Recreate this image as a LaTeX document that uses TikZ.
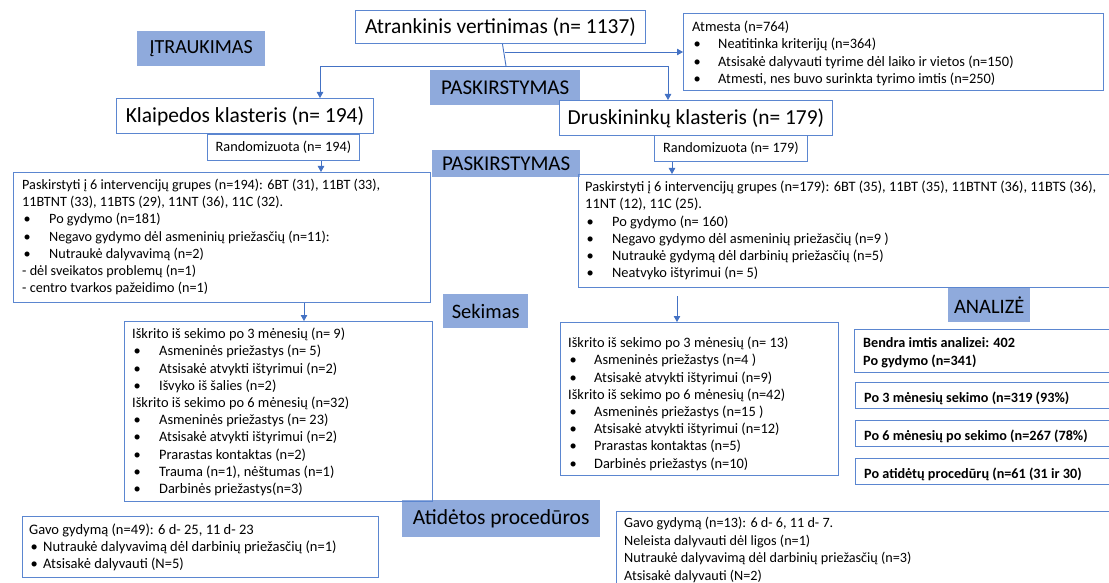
\documentclass[tikz,border=0pt]{standalone}
\usepackage{fontspec}
\setmainfont{Carlito}
\usetikzlibrary{arrows.meta}
\definecolor{lineblue}{HTML}{4472C4}
\definecolor{boxblue}{HTML}{5B86D0}
\definecolor{tagblue}{HTML}{8FAADC}
\newcommand\bl[1][27pt]{\makebox[#1][l]{\hspace{1.5pt}•}}
\tikzset{
  boxframe/.style={draw=boxblue, line width=0.9pt, anchor=north west, inner sep=0pt},
  tagbox/.style={fill=tagblue, anchor=north west, inner sep=0pt, text=black},
  txt/.style={anchor=north west, inner sep=0pt, align=left, text=black, font=\fontsize{14.4}{17.2}\selectfont},
  bold/.style={txt, font=\fontsize{14.2}{18}\selectfont\bfseries},
  conn/.style={draw=lineblue, line width=0.9pt},
  arr/.style={conn, -{Triangle[length=6pt,width=6.5pt]}}
}
\begin{document}
\begin{tikzpicture}[x=1pt,y=-1pt]
\useasboundingbox (0,0) rectangle (1109,583);
\fill[white] (0,0) rectangle (1109,583);

% stage tags
\node[tagbox, minimum width=128, minimum height=35, font=\fontsize{20}{22}\selectfont] (incl) at (137,31) {ĮTRAUKIMAS};
\node[tagbox, minimum width=150, minimum height=35, font=\fontsize{21}{23}\selectfont] (alloc1) at (430,70) {PASKIRSTYMAS};
\node[tagbox, minimum width=148, minimum height=27, font=\fontsize{21}{23}\selectfont] (alloc2) at (432,150) {PASKIRSTYMAS};
\node[tagbox, minimum width=85, minimum height=34, font=\fontsize{20.5}{22}\selectfont] (follow) at (443,294) {Sekimas};
\node[tagbox, minimum width=82, minimum height=35, font=\fontsize{20.5}{22}\selectfont] (anal) at (948,287) {ANALIZĖ};
\node[tagbox, minimum width=198, minimum height=37, font=\fontsize{21.5}{23}\selectfont] (delay) at (402,500) {Atidėtos procedūros};

% top boxes
\node[boxframe, fill=white, minimum width=290, minimum height=33, font=\fontsize{21.4}{24}\selectfont] (screen) at (355,10) {Atrankinis vertinimas (n= 1137)};
\node[boxframe, minimum width=420, minimum height=77] (excl) at (683,13) {};
\node[txt, font=\fontsize{14.4}{17.2}\selectfont] (excltxt) at (692,21) {Atmesta (n=764)\\
\bl[26pt]Neatitinka kriterijų (n=364)\\
\bl[26pt]Atsisakė dalyvauti tyrime dėl laiko ir vietos (n=150)\\
\bl[26pt]Atmesti, nes buvo surinkta tyrimo imtis (n=250)};

\node[boxframe, fill=white, minimum width=257, minimum height=35, font=\fontsize{21.5}{24}\selectfont] (klai) at (116,98) {Klaipedos klasteris (n= 194)};
\node[boxframe, fill=white, minimum width=273, minimum height=35, font=\fontsize{21.4}{24}\selectfont] (drus) at (559,100) {Druskininkų klasteris (n= 179)};

\node[boxframe, fill=white, minimum width=152, minimum height=26, font=\fontsize{14.3}{16}\selectfont] (rand1) at (207,134) {Randomizuota (n= 194)};
\node[boxframe, fill=white, minimum width=153, minimum height=26, font=\fontsize{14.3}{16}\selectfont] (rand2) at (654,135) {Randomizuota (n= 179)};

% allocation boxes
\node[boxframe, minimum width=417, minimum height=130] (pask1) at (13,172) {};
\node[txt, font=\fontsize{14.2}{17.2}\selectfont] (pask1txt) at (22,179) {Paskirstyti į 6 intervencijų grupes (n=194): 6BT (31), 11BT (33),\\
11BTNT (33), 11BTS (29), 11NT (36), 11C (32).\\
\bl Po gydymo (n=181)\\
\bl Negavo gydymo dėl asmeninių priežasčių (n=11):\\
\bl Nutraukė dalyvavimą (n=2)\\
- dėl sveikatos problemų (n=1)\\
- centro tvarkos pažeidimo (n=1)};

\node[boxframe, minimum width=535, minimum height=113] (pask2) at (578,174) {};
\node[txt] (pask2txt) at (585,181) {Paskirstyti į 6 intervencijų grupes (n=179): 6BT (35), 11BT (35), 11BTNT (36), 11BTS (36),\\
11NT (12), 11C (25).\\
\bl Po gydymo (n= 160)\\
\bl Negavo gydymo dėl asmeninių priežasčių (n=9 )\\
\bl Nutraukė gydymą dėl darbinių priežasčių (n=5)\\
\bl Neatvyko ištyrimui (n= 5)};

% follow-up boxes
\node[boxframe, minimum width=308, minimum height=180] (sek1) at (124,321) {};
\node[txt] (sek1txt) at (132,328) {Iškrito iš sekimo po 3 mėnesių (n= 9)\\
\bl Asmeninės priežastys (n= 5)\\
\bl Atsisakė atvykti ištyrimui (n=2)\\
\bl Išvyko iš šalies (n=2)\\
Iškrito iš sekimo po 6 mėnesių (n=32)\\
\bl Asmeninės priežastys (n= 23)\\
\bl Atsisakė atvykti ištyrimui (n=2)\\
\bl Prarastas kontaktas (n=2)\\
\bl Trauma (n=1), nėštumas (n=1)\\
\bl Darbinės priežastys(n=3)};

\node[boxframe, minimum width=278, minimum height=153] (sek2) at (560,322) {};
\node[txt] (sek2txt) at (568,337) {Iškrito iš sekimo po 3 mėnesių (n= 13)\\
\bl[26pt]Asmeninės priežastys (n=4 )\\
\bl[26pt]Atsisakė atvykti ištyrimui (n=9)\\
Iškrito iš sekimo po 6 mėnesių (n=42)\\
\bl[26pt]Asmeninės priežastys (n=15 )\\
\bl[26pt]Atsisakė atvykti ištyrimui (n=12)\\
\bl[26pt]Prarastas kontaktas (n=5)\\
\bl[26pt]Darbinės priežastys (n=10)};

% analysis boxes
\node[boxframe, minimum width=260, minimum height=43] (an1) at (854,329) {};
\node[bold] (an1txt) at (863,337) {Bendra imtis analizei: 402\\Po gydymo (n=341)};
\node[boxframe, minimum width=260, minimum height=26] (an2) at (855,382) {};
\node[bold] (an2txt) at (864,392) {Po 3 mėnesių sekimo (n=319 (93\%)};
\node[boxframe, minimum width=260, minimum height=26] (an3) at (855,420) {};
\node[bold] (an3txt) at (864,430) {Po 6 mėnesių po sekimo (n=267 (78\%)};
\node[boxframe, minimum width=260, minimum height=26] (an4) at (855,458) {};
\node[bold] (an4txt) at (864,468) {Po atidėtų procedūrų (n=61 (31 ir 30)};

% delayed procedure boxes
\node[boxframe, minimum width=356, minimum height=61] (del1) at (22,516) {};
\node[txt, font=\fontsize{14.5}{17}\selectfont] (del1txt) at (29,524) {Gavo gydymą (n=49): 6 d- 25, 11 d- 23\\
\bl[14pt]Nutraukė dalyvavimą dėl darbinių priežasčių (n=1)\\
\bl[14pt]Atsisakė dalyvauti (N=5)};
\node[boxframe, minimum width=500, minimum height=80] (del2) at (616,511) {};
\node[txt, font=\fontsize{14.2}{17.5}\selectfont] (del2txt) at (624,517) {Gavo gydymą (n=13): 6 d- 6, 11 d- 7.\\
Neleista dalyvauti dėl ligos (n=1)\\
Nutraukė dalyvavimą dėl darbinių priežasčių (n=3)\\
Atsisakė dalyvauti (N=2)};

% connectors
\coordinate (split) at (506,66);
\coordinate (branch) at (505,52);
\draw[conn] ([xshift=2pt]screen.south) -- (split);
\draw[arr] (branch) -- (branch -| excl.west);
\draw[arr] (split) -| ([xshift=204pt]klai.north west);
\draw[arr] (split) -| ([xshift=109pt]drus.north west);
\draw[arr] ([xshift=114pt]rand1.south west) -- ([xshift=114pt]rand1.south west |- pask1.north);
\draw[arr] ([xshift=18pt]rand2.south west) -- ([xshift=18pt]rand2.south west |- pask2.north);
\draw[arr] ([xshift=291pt]pask1.south west) -- ([xshift=291pt]pask1.south west |- sek1.north);
\coordinate (gap2) at (677,296);
\draw[arr] (gap2) -- (gap2 |- sek2.north);
\end{tikzpicture}
\end{document}
